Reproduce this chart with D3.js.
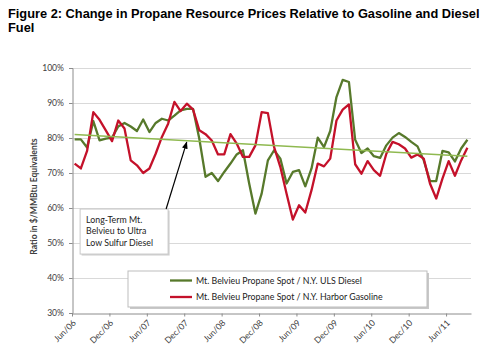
<!DOCTYPE html>
<html><head><meta charset="utf-8">
<script src="https://cdn.jsdelivr.net/npm/d3@7"></script>
<style>html,body{margin:0;padding:0;background:#fff;}svg{display:block;}</style>
</head><body><svg id="c" width="500" height="355"></svg>
<script>
// ---- data ----
const startMonth = new Date(2006, 5, 1);   // Jun 2006
const monthCount = 64;                      // Jun/06 .. Sep/11
const tickLabels = ["Jun/06","Dec/06","Jun/07","Dec/07","Jun/08","Dec/08","Jun/09","Dec/09","Jun/10","Dec/10","Jun/11"];
const yTicks = [30,40,50,60,70,80,90,100];
const dieselRatio = [
 79.6,79.6,77.3,84.8,79.3,79.8,80.1,
 83.3,84.3,83.3,82.0,85.3,81.7,84.3,85.5,85.0,86.4,87.9,88.3,
 88.3,79.8,68.9,70.0,67.7,70.3,72.7,75.3,76.5,67.0,58.4,64.1,
 73.6,76.5,74.1,67.0,70.3,70.8,66.2,71.3,80.1,77.4,82.0,91.7,
 96.6,96.0,79.5,75.7,77.0,74.8,74.3,77.9,80.1,81.4,80.3,78.9,
 77.6,73.6,67.7,67.7,76.3,75.9,73.3,77.0,79.5];
const gasolineRatio = [
 72.7,71.3,76.3,87.4,85.2,82.2,79.1,
 85.0,82.7,73.6,72.2,70.0,71.3,75.5,80.3,84.1,90.3,87.7,89.8,
 88.1,82.2,81.1,79.3,75.3,75.3,81.1,78.4,74.6,74.6,77.9,87.4,
 87.1,77.4,71.7,64.1,56.7,60.8,58.7,65.1,72.7,71.9,74.1,85.0,
 88.1,89.6,72.5,69.8,73.4,70.8,69.2,75.5,78.9,78.2,77.0,74.4,
 75.3,74.1,67.0,62.7,68.4,73.4,69.2,73.6,77.2];
const trendEnds = [81.0, 74.8];  // long-term diesel trend, first & last month
const seriesNames = ["Mt. Belvieu Propane Spot / N.Y. ULS Diesel","Mt. Belvieu Propane Spot / N.Y. Harbor Gasoline"];
const annotationLines = ["Long-Term Mt.","Belvieu to Ultra","Low Sulfur Diesel"];

// ---- chart ----
const svg = d3.select("#c");
const C = {diesel:"#57792b", gas:"#c4112a", trend:"#8fb950", grid:"#d9d9d9", axis:"#8c8c8c", text:"#404040"};
const L = 72, R = 471, T = 68, B = 313;
const off = 0.42;
const x = d3.scaleLinear().domain([0, monthCount]).range([L, R]);
const y = d3.scaleLinear().domain([30, 100]).range([B, T]);

svg.append("rect").attr("width",500).attr("height",355).attr("fill","#fff");

// title
const title = svg.append("text").attr("font-family","Liberation Sans, Arial, sans-serif")
  .attr("font-weight","bold").attr("font-size",12.8).attr("fill","#000");
title.append("tspan").attr("x",8).attr("y",18.3).text("Figure 2: Change in Propane Resource Prices Relative to Gasoline and Diesel");
title.append("tspan").attr("x",8).attr("y",32.3).text("Fuel");

// grid
svg.append("g").selectAll("line").data(yTicks.filter(d=>d>30)).join("line")
  .attr("x1",L).attr("x2",R).attr("y1",d=>y(d)+0.5).attr("y2",d=>y(d)+0.5)
  .attr("stroke",C.grid).attr("stroke-width",1);

// y axis
const ya = svg.append("g").attr("transform",`translate(${L+0.5},0)`)
  .call(d3.axisLeft(y).tickValues(yTicks).tickFormat(d=>d+"%").tickSize(3.5).tickPadding(5));
ya.select(".domain").attr("stroke",C.axis);
ya.selectAll(".tick line").attr("stroke",C.axis);
ya.selectAll(".tick text").attr("font-family","Lato, sans-serif").attr("font-size",8.6).attr("fill",C.text);

// x axis
const xa = svg.append("g").attr("transform",`translate(0,${B+0.5})`)
  .call(d3.axisBottom(x).tickValues(d3.range(0,61,6)).tickFormat((d,i)=>tickLabels[i]).tickSize(3).tickSizeOuter(0));
xa.select(".domain").attr("stroke",C.axis);
xa.selectAll(".tick line").attr("stroke",C.axis);
xa.selectAll(".tick text").attr("font-family","Lato, sans-serif").attr("font-size",8.6).attr("fill",C.text)
  .attr("text-anchor","end").attr("dy",0).attr("y",0)
  .attr("transform","translate(4,10) rotate(-45)");

// y title
svg.append("text").attr("transform",`translate(37,${(T+B)/2+6}) rotate(-90)`)
  .attr("text-anchor","middle").attr("font-family","Lato, sans-serif").attr("font-weight","bold")
  .attr("font-size",8.6).attr("fill",C.text).text("Ratio in $/MMBtu Equivalents");

// lines
const line = d3.line().x((d,i)=>x(i+off)).y(d=>y(d));
svg.append("path").datum(dieselRatio).attr("d",line).attr("fill","none")
  .attr("stroke",C.diesel).attr("stroke-width",2.3).attr("stroke-linejoin","round");
svg.append("path").datum(gasolineRatio).attr("d",line).attr("fill","none")
  .attr("stroke",C.gas).attr("stroke-width",2.3).attr("stroke-linejoin","round");
svg.append("line").attr("x1",x(off)).attr("x2",x(monthCount-1+off))
  .attr("y1",y(trendEnds[0])).attr("y2",y(trendEnds[1]))
  .attr("stroke",C.trend).attr("stroke-width",1.6);

// annotation box + arrow
const defs = svg.append("defs");
defs.append("marker").attr("id","ah").attr("viewBox","0 0 10 10").attr("refX",9).attr("refY",5)
  .attr("markerWidth",6).attr("markerHeight",6).attr("orient","auto")
  .append("path").attr("d","M0,1 L10,5 L0,9 Z").attr("fill","#000");
const bx = x(1.3), by = y(59.7), bw = 88, bh = 45;
svg.append("rect").attr("x",bx+1.5).attr("y",by+1.5).attr("width",bw).attr("height",bh).attr("fill","#d0d0d0");
svg.append("rect").attr("x",bx).attr("y",by).attr("width",bw).attr("height",bh).attr("fill","#fff").attr("stroke","#c8c8c8");
svg.append("g").selectAll("text").data(annotationLines).join("text")
  .attr("x",bx+6).attr("y",(d,i)=>by+13.5+i*11.6).attr("font-family","Lato, sans-serif")
  .attr("font-size",8.8).attr("fill","#222").text(d=>d);
const tipI = 18.4, tipV = trendEnds[0] + (trendEnds[1]-trendEnds[0])*(tipI-off)/(monthCount-1);
svg.append("line").attr("x1",bx+bw-2).attr("y1",by).attr("x2",x(tipI)).attr("y2",y(tipV)+1.5)
  .attr("stroke","#000").attr("stroke-width",1.2).attr("marker-end","url(#ah)");

// legend
const lx = 128, ly = 271, lw = 299, lh = 36;
svg.append("rect").attr("x",lx+2).attr("y",ly+2).attr("width",lw).attr("height",lh).attr("fill","#c8c8c8");
svg.append("rect").attr("x",lx).attr("y",ly).attr("width",lw).attr("height",lh).attr("fill","#fff").attr("stroke","#bdbdbd");
const lg = svg.append("g").selectAll("g").data(seriesNames).join("g")
  .attr("transform",(d,i)=>`translate(${lx+42},${ly+9.5+i*16.5})`);
lg.append("line").attr("x1",0).attr("x2",22).attr("stroke",(d,i)=>i?C.gas:C.diesel).attr("stroke-width",2.3);
lg.append("text").attr("x",26).attr("y",3.2).attr("font-family","Lato, sans-serif").attr("font-size",8.8)
  .attr("fill","#222").text(d=>d);
</script></body></html>
